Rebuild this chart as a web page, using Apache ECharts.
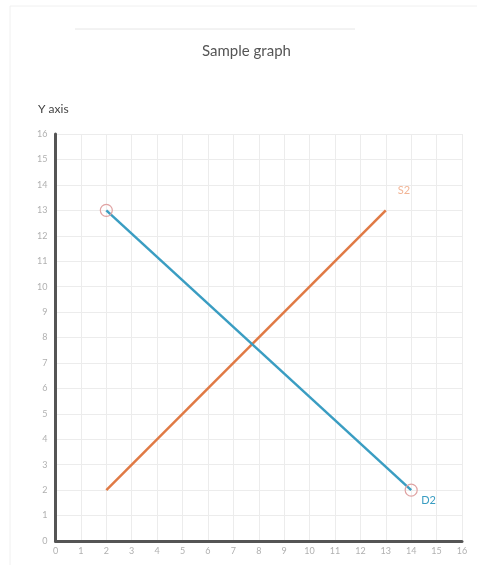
<!DOCTYPE html>
<html><head><meta charset="utf-8">
<script src="https://cdn.jsdelivr.net/npm/echarts@6/dist/echarts.min.js"></script>
<style>html,body{margin:0;padding:0;background:#fff}#c{width:477px;height:565px}</style>
</head><body><div id="c"></div>
<script>
const title = 'Sample graph';
const yAxisName = 'Y axis';
const axisMin = 0, axisMax = 16, axisStep = 1;
const s2Name = 'S2';
const s2Points = [[2, 2], [13, 13]];
const d2Name = 'D2';
const d2Points = [[2, 13], [14, 2]];

const chart = echarts.init(document.getElementById('c'));
const axisCommon = {
  type: 'value', min: axisMin, max: axisMax, interval: axisStep,
  axisLine: { show: true, lineStyle: { color: '#555', width: 3 } },
  axisTick: { show: false },
  splitLine: { show: true, lineStyle: { color: '#ececec', width: 1 } },
  axisLabel: { color: '#b0b0b0', fontSize: 9, fontFamily: 'Lato' }
};
chart.setOption({
  animation: false,
  title: { text: title, left: 197, top: 39,
    textStyle: { fontFamily: 'Lato', fontSize: 15, fontWeight: 'normal', color: '#555' } },
  graphic: [
    { type: 'rect', shape: { x: 10, y: 6, width: 480, height: 580 }, style: { fill: 'none', stroke: '#f0f0f0', lineWidth: 1 } },
    { type: 'line', shape: { x1: 75, y1: 29, x2: 355, y2: 29 }, style: { stroke: '#e6e6e6', lineWidth: 1 } },
    { type: 'text', left: 38, top: 103, style: { text: yAxisName, font: '12px Lato', fill: '#444' } }
  ],
  grid: { left: 55.5, right: 15, top: 134, bottom: 24 },
  xAxis: Object.assign({}, axisCommon, { axisLabel: Object.assign({}, axisCommon.axisLabel, { margin: 6 }) }),
  yAxis: Object.assign({}, axisCommon, { axisLabel: Object.assign({}, axisCommon.axisLabel, { margin: 8 }) }),
  series: [
    { name: s2Name, type: 'line', data: s2Points, symbol: 'none',
      lineStyle: { color: '#e07a45', width: 2.5 },
      endLabel: { show: true, formatter: s2Name, color: '#f2b596', fontSize: 11, fontFamily: 'Lato', offset: [4, -20] } },
    { name: d2Name, type: 'line', data: d2Points, symbol: 'circle', symbolSize: 12,
      itemStyle: { color: 'rgba(0,0,0,0)', borderColor: '#e0a3a3', borderWidth: 1.2 },
      lineStyle: { color: '#3a9dc2', width: 2.5 },
      endLabel: { show: true, formatter: d2Name, color: '#3a9dc2', fontSize: 11, fontFamily: 'Lato', offset: [2, 10] } }
  ]
});
</script></body></html>
